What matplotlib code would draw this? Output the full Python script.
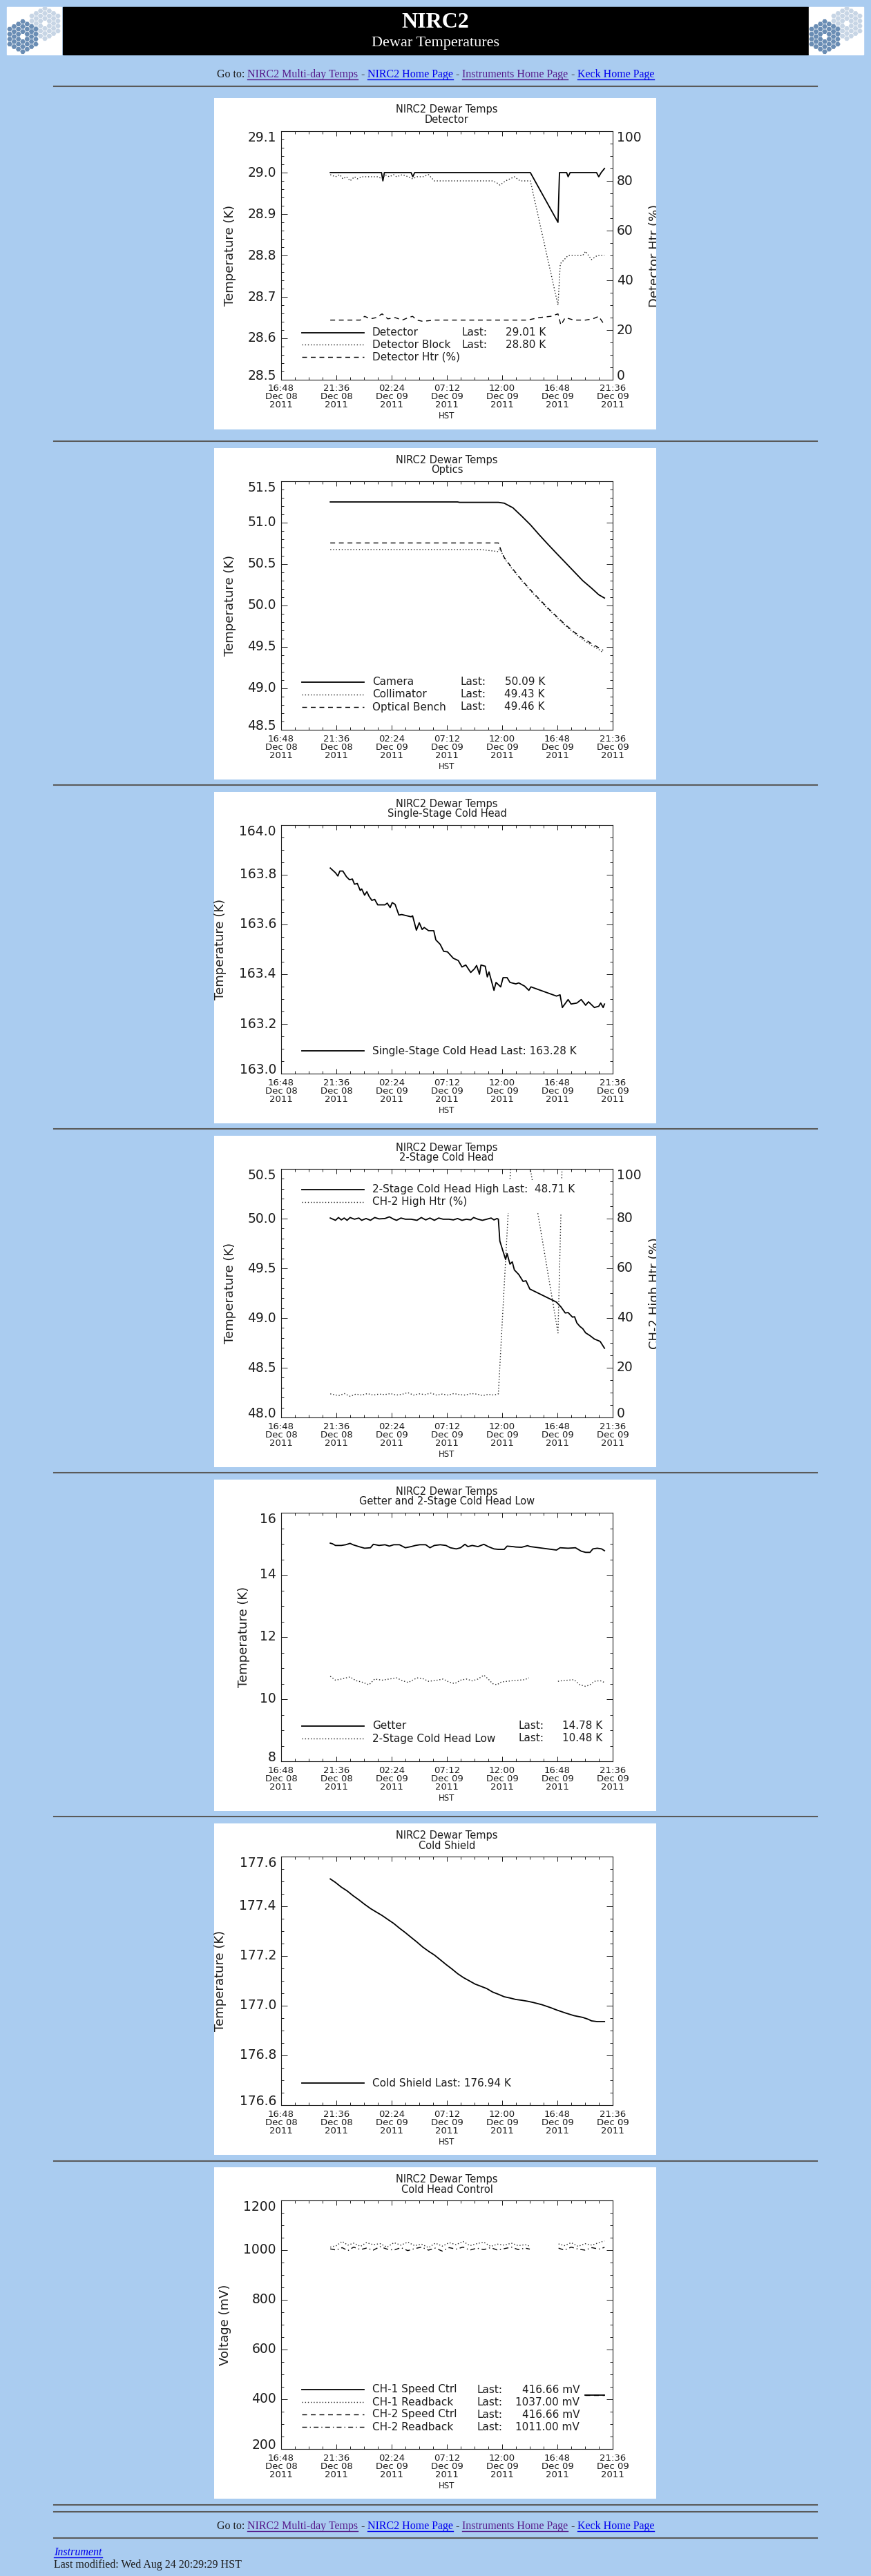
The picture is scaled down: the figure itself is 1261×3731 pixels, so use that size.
import numpy as np
import matplotlib
matplotlib.use("Agg")
import matplotlib.pyplot as plt
from matplotlib import transforms
from matplotlib.patches import Rectangle, RegularPolygon
from matplotlib.ticker import FixedLocator, MultipleLocator

W, H = 1261, 3731
PAGE_BG = "#AACCF0"
INK = "#1c1c1c"
SANS = "DejaVu Sans"
SERIF = "Liberation Serif"
LINK = "#0000EE"
VISITED = "#551A8B"

# time axis: hours after 16:48 HST, Dec 08 2011
TIME_TICKS = [0.0, 4.8, 9.6, 14.4, 19.2, 24.0, 28.8]
TIME_CLOCK = ["16:48", "21:36", "02:24", "07:12", "12:00", "16:48", "21:36"]
TIME_DAY = ["Dec 08", "Dec 08", "Dec 09", "Dec 09", "Dec 09", "Dec 09", "Dec 09"]
TIME_YEAR = ["2011"] * 7

# ---------------- data (hour, value) ----------------
detector = [(4.27, 29.00), (8.72, 29.00), (8.84, 28.98), (8.97, 29.00), (11.29, 29.00),
            (11.44, 28.99), (11.60, 29.00), (21.65, 29.00), (24.05, 28.88), (24.18, 29.00),
            (24.80, 29.00), (24.93, 28.99), (25.10, 29.00), (27.40, 29.00), (27.59, 28.99),
            (27.80, 29.00), (28.09, 29.01)]
detector_block = [(4.27, 28.995), (4.72, 28.99), (5.10, 28.995), (5.36, 28.985), (5.68, 28.99),
                  (5.99, 28.98), (6.37, 28.99), (6.62, 28.985), (7.00, 28.99), (7.45, 28.99),
                  (7.88, 28.99), (8.39, 28.99), (8.77, 28.985), (9.02, 28.995), (9.40, 28.99),
                  (9.78, 28.995), (10.03, 28.99), (10.53, 28.995), (11.04, 28.99), (11.42, 28.985),
                  (11.80, 28.99), (12.30, 28.99), (12.81, 28.995), (13.31, 28.98), (14.83, 28.98),
                  (16.85, 28.98), (18.37, 28.98), (18.75, 28.975), (19.00, 28.97), (19.50, 28.98),
                  (20.26, 28.99), (20.77, 28.98), (21.65, 28.98), (24.05, 28.68), (24.25, 28.78),
                  (24.93, 28.80), (25.44, 28.80), (26.20, 28.80), (26.45, 28.81), (26.96, 28.79),
                  (27.46, 28.80), (28.09, 28.80)]
detector_htr = [(4.27, 24), (6.87, 24), (7.25, 25.5), (7.76, 24.5), (8.26, 25), (8.77, 26.5),
                (9.27, 24.5), (9.90, 25), (10.53, 24), (11.04, 25), (11.42, 25.5), (11.80, 24),
                (12.30, 23.5), (13.31, 24), (21.40, 24), (22.41, 25), (23.42, 25.5), (24.05, 26.5),
                (24.30, 22), (24.68, 25), (25.44, 24), (26.45, 24), (27.08, 24.5), (27.59, 25.5),
                (28.09, 22)]

camera = [(4.27, 51.25), (15.33, 51.25), (15.50, 51.245), (18.87, 51.245), (19.38, 51.235),
          (20.13, 51.18), (20.89, 51.08), (21.65, 50.975), (22.41, 50.855), (23.17, 50.74),
          (23.92, 50.63), (24.68, 50.52), (25.44, 50.41), (26.20, 50.30), (26.96, 50.21),
          (27.59, 50.13), (28.09, 50.09)]
collimator = [(4.27, 50.675), (17.36, 50.675), (18.62, 50.655), (18.87, 50.65), (19.00, 50.70),
              (19.07, 50.67), (19.38, 50.57), (20.13, 50.43), (20.89, 50.30), (21.65, 50.18),
              (22.41, 50.07), (23.17, 49.96), (23.92, 49.86), (24.68, 49.76), (25.44, 49.67),
              (26.20, 49.59), (26.96, 49.52), (27.59, 49.47), (27.97, 49.43)]
optical_bench = [(4.27, 50.755), (18.87, 50.755), (19.12, 50.66), (19.38, 50.58), (20.13, 50.44),
                 (20.89, 50.31), (21.65, 50.19), (22.41, 50.08), (23.17, 49.97), (23.92, 49.87),
                 (24.68, 49.77), (25.44, 49.68), (26.20, 49.61), (26.96, 49.54), (27.59, 49.49),
                 (27.97, 49.46)]

single_stage = [(4.27, 163.827), (4.72, 163.808), (4.93, 163.795), (5.10, 163.815), (5.36, 163.815),
                (5.68, 163.792), (5.94, 163.780), (6.19, 163.783), (6.37, 163.762), (6.62, 163.765),
                (6.87, 163.737), (7.00, 163.743), (7.25, 163.718), (7.45, 163.732), (7.63, 163.714),
                (7.88, 163.697), (8.13, 163.701), (8.39, 163.679), (9.02, 163.679), (9.22, 163.686),
                (9.47, 163.668), (9.65, 163.688), (9.90, 163.681), (10.23, 163.638), (10.48, 163.640),
                (11.29, 163.631), (11.42, 163.635), (11.75, 163.577), (12.00, 163.607), (12.25, 163.580),
                (12.43, 163.588), (12.81, 163.575), (13.26, 163.575), (13.44, 163.538), (13.82, 163.520),
                (14.12, 163.492), (14.45, 163.490), (14.96, 163.464), (15.39, 163.455), (15.71, 163.429),
                (16.04, 163.437), (16.47, 163.407), (16.80, 163.422), (16.98, 163.435), (17.23, 163.400),
                (17.36, 163.437), (17.73, 163.432), (17.91, 163.389), (18.06, 163.409), (18.49, 163.335),
                (18.67, 163.367), (19.07, 163.349), (19.28, 163.386), (19.63, 163.386), (19.88, 163.367),
                (20.39, 163.361), (20.64, 163.365), (21.15, 163.352), (21.52, 163.335), (21.70, 163.349),
                (23.92, 163.312), (24.23, 163.317), (24.43, 163.266), (24.93, 163.298), (25.19, 163.280),
                (25.69, 163.284), (26.07, 163.298), (26.45, 163.275), (26.70, 163.289), (27.21, 163.266),
                (27.59, 163.271), (27.76, 163.284), (27.97, 163.266), (28.09, 163.280)]

ch2_high = [(4.27, 50.006), (4.72, 49.983), (4.98, 50.011), (5.23, 49.987), (5.48, 50.006),
            (5.73, 49.983), (5.99, 50.011), (6.37, 49.994), (6.75, 50.006), (7.00, 49.983),
            (7.38, 50.001), (7.76, 49.983), (8.13, 50.011), (8.51, 49.997), (9.02, 50.001),
            (9.40, 50.018), (9.78, 49.994), (10.03, 49.983), (10.41, 50.006), (10.79, 49.994),
            (11.29, 49.994), (11.80, 49.983), (12.18, 50.011), (12.56, 49.987), (12.93, 50.006),
            (13.31, 49.983), (13.69, 50.006), (14.07, 49.994), (14.58, 49.994), (14.96, 49.987),
            (15.33, 50.001), (15.71, 49.983), (16.09, 49.994), (16.47, 49.987), (16.72, 50.011),
            (17.10, 49.994), (17.48, 49.983), (17.86, 49.994), (18.24, 50.006), (18.49, 49.987),
            (18.75, 50.001), (18.87, 49.994), (19.00, 49.774), (19.25, 49.681), (19.50, 49.589),
            (19.63, 49.647), (19.88, 49.542), (20.08, 49.565), (20.26, 49.484), (20.64, 49.438),
            (21.02, 49.368), (21.27, 49.375), (21.60, 49.292), (23.92, 49.160), (24.30, 49.113),
            (24.68, 49.051), (24.93, 49.055), (25.31, 49.009), (25.49, 49.013), (25.69, 48.951),
            (25.95, 48.916), (26.20, 48.893), (26.45, 48.851), (26.83, 48.823), (27.21, 48.789),
            (27.46, 48.777), (27.71, 48.765), (28.09, 48.696)]
ch2_htr = [(4.27, 9.5), (5.0, 8.8), (5.5, 9.6), (6.0, 8.5), (6.5, 9.4), (7.0, 9.0), (7.5, 9.6),
           (8.0, 9.0), (8.5, 9.4), (9.0, 9.2), (9.5, 9.6), (10.0, 9.0), (10.5, 9.3), (11.0, 10.0),
           (11.5, 9.0), (12.0, 9.5), (12.5, 9.2), (13.0, 9.8), (13.5, 9.0), (14.0, 9.4), (14.5, 9.0),
           (15.0, 9.6), (15.5, 9.2), (16.0, 9.0), (16.5, 9.6), (17.0, 9.4), (17.5, 8.8), (18.0, 9.3),
           (18.5, 9.0), (18.87, 9.5), (19.93, 100), (21.65, 100), (24.05, 34), (24.40, 100),
           (28.09, 100)]

getter = [(4.27, 15.021), (4.47, 14.999), (4.72, 14.947), (5.23, 14.947), (5.61, 14.970),
          (5.99, 15.014), (6.24, 14.970), (6.75, 14.910), (7.25, 14.858), (7.76, 14.873),
          (8.01, 14.984), (8.51, 14.947), (9.02, 14.970), (9.40, 14.925), (9.78, 14.970),
          (10.28, 14.970), (10.79, 14.873), (11.29, 14.910), (11.67, 14.947), (12.05, 14.970),
          (12.56, 14.970), (12.93, 14.873), (13.31, 14.947), (13.82, 14.970), (14.32, 14.947),
          (14.70, 14.873), (15.21, 14.836), (15.59, 14.873), (15.97, 14.984), (16.22, 14.910),
          (16.60, 14.947), (17.10, 14.910), (17.61, 14.984), (17.99, 14.910), (18.49, 14.836),
          (18.87, 14.821), (19.38, 14.821), (19.63, 14.925), (20.13, 14.910), (20.39, 14.896),
          (20.89, 14.888), (21.40, 14.940), (21.65, 14.910), (23.92, 14.799), (24.23, 14.873),
          (24.93, 14.858), (25.57, 14.873), (26.07, 14.762), (26.45, 14.725), (26.83, 14.725),
          (27.08, 14.836), (27.46, 14.858), (27.84, 14.836), (28.09, 14.777)]
ch2_low = [(4.27, 10.737), (4.72, 10.611), (5.23, 10.648), (5.99, 10.715), (6.49, 10.596),
           (7.00, 10.552), (7.63, 10.463), (8.13, 10.648), (8.77, 10.611), (9.40, 10.648),
           (10.03, 10.685), (10.53, 10.596), (11.04, 10.537), (11.80, 10.685), (12.30, 10.663),
           (12.81, 10.574), (13.57, 10.611), (14.07, 10.648), (14.58, 10.552), (15.08, 10.500),
           (15.59, 10.611), (16.09, 10.648), (16.60, 10.589), (17.10, 10.648), (17.61, 10.774),
           (17.99, 10.648), (18.37, 10.500), (18.75, 10.463), (19.12, 10.552), (19.63, 10.574),
           (20.13, 10.596), (20.64, 10.611), (21.15, 10.626), (21.52, 10.685), (22.80, np.nan),
           (24.05, 10.574), (24.43, 10.596), (24.93, 10.611), (25.44, 10.626), (25.95, 10.463),
           (26.45, 10.411), (26.83, 10.463), (27.21, 10.574), (27.71, 10.596), (28.09, 10.537)]

cold_shield = [(4.27, 177.510), (4.72, 177.496), (5.23, 177.477), (5.73, 177.462), (6.24, 177.443),
               (6.75, 177.426), (7.25, 177.408), (7.76, 177.391), (8.26, 177.377), (8.77, 177.363),
               (9.27, 177.347), (9.78, 177.331), (10.28, 177.312), (10.79, 177.294), (11.29, 177.275),
               (11.80, 177.256), (12.30, 177.236), (12.81, 177.219), (13.31, 177.204), (13.82, 177.185),
               (14.32, 177.166), (14.83, 177.148), (15.33, 177.129), (15.84, 177.113), (16.35, 177.100),
               (16.85, 177.087), (17.36, 177.078), (17.86, 177.069), (18.37, 177.055), (18.87, 177.046),
               (19.38, 177.036), (19.88, 177.031), (20.39, 177.025), (20.89, 177.022), (21.40, 177.018),
               (21.90, 177.013), (22.66, 177.004), (23.42, 176.992), (23.92, 176.983), (24.68, 176.971),
               (25.44, 176.960), (26.20, 176.953), (26.70, 176.945), (26.96, 176.939), (27.46, 176.936),
               (28.09, 176.936)]

ch1_speed = [(26.40, 416.66), (28.05, 416.66)]
ch2_speed = [(26.40, 416.66), (28.05, 416.66)]
ch1_readback = [(4.27, 1012), (4.8, 1018), (5.3, 1035), (5.8, 1020), (6.3, 1028), (6.9, 1015),
                (7.4, 1030), (8.0, 1022), (8.6, 1026), (9.2, 1012), (9.8, 1030), (10.4, 1020),
                (11.0, 1032), (11.6, 1018), (12.2, 1024), (12.8, 1010), (13.4, 1028), (14.0, 1016),
                (14.6, 1030), (15.2, 1022), (15.8, 1035), (16.4, 1018), (17.0, 1026), (17.6, 1032),
                (18.2, 1015), (18.8, 1024), (19.4, 1020), (20.0, 1028), (20.6, 1018), (21.2, 1022),
                (21.6, 1016), (22.8, np.nan), (24.1, 1025), (24.6, 1018), (25.2, 1030), (25.8, 1015),
                (26.4, 1026), (27.0, 1020), (27.6, 1030), (28.09, 1037)]
ch2_readback = [(4.27, 1005), (4.8, 1000), (5.3, 1010), (5.8, 998), (6.3, 1012), (6.9, 1002),
                (7.4, 1008), (8.0, 1000), (8.6, 1014), (9.2, 1004), (9.8, 1000), (10.4, 1010),
                (11.0, 998), (11.6, 1006), (12.2, 1012), (12.8, 1000), (13.4, 1008), (14.0, 996),
                (14.6, 1010), (15.2, 1004), (15.8, 1012), (16.4, 1000), (17.0, 1008), (17.6, 1002),
                (18.2, 1010), (18.8, 1000), (19.4, 1006), (20.0, 1012), (20.6, 1002), (21.2, 1008),
                (21.6, 1004), (22.8, np.nan), (24.1, 1008), (24.6, 1000), (25.2, 1012), (25.8, 1004),
                (26.4, 1000), (27.0, 1010), (27.6, 1004), (28.09, 1011)]

SOLID = dict(color="black", lw=1.3, ls="-")
DOTTED = dict(color="#222222", lw=1.0, ls=(0, (1, 2)))
DASHED = dict(color="black", lw=1.0, ls=(0, (5, 4)))
DASHDOT = dict(color="black", lw=1.0, ls=(0, (5, 3, 1, 3)))


def xy(pairs):
    a = np.array(pairs, dtype=float)
    return a[:, 0], a[:, 1]


fig = plt.figure(figsize=(W / 100, H / 100), dpi=100)
fig.patch.set_facecolor(PAGE_BG)


def px_axes(x, y, w, h):
    return fig.add_axes([x / W, 1 - (y + h) / H, w / W, h / H])


page = px_axes(0, 0, W, H)
page.set_xlim(0, W)
page.set_ylim(H, 0)
page.axis("off")

# ---------------- header ----------------
page.add_patch(Rectangle((91, 10), 1079, 69, color="black"))


def logo(x0, y0):
    box = Rectangle((x0, y0), 79, 69, color="white")
    page.add_patch(box)
    s = 4.2
    for (cx, cy), col in [((x0 + 55, y0 + 24), "#C7D5E5"), ((x0 + 23, y0 + 43), "#6A8DB4")]:
        for q in range(-3, 4):
            for r in range(-3, 4):
                if max(abs(q), abs(r), abs(q + r)) > 3 or (q == 0 and r == 0):
                    continue
                hx = cx + 1.5 * s * q
                hy = cy + np.sqrt(3) * s * (r + q / 2)
                hp = RegularPolygon((hx, hy), 6, radius=s * 0.9, orientation=np.pi / 6,
                                    color=col, lw=0)
                page.add_patch(hp)
                hp.set_clip_path(box)


logo(10, 10)
logo(1171, 10)
page.text(630, 33, "NIRC2", color="white", fontsize=23, fontweight="bold", family=SERIF,
          ha="center", va="center")
page.text(630, 63, "Dewar Temperatures", color="white", fontsize=16, family=SERIF,
          ha="center", va="center")

renderer = fig.canvas.get_renderer()


def text_width(s, **kw):
    t = page.text(0, 0, s, **kw)
    w = t.get_window_extent(renderer=renderer).width
    t.remove()
    return w


def goto_row(base):
    size = 11.5
    gap = 0.25 * size * 100 / 72
    items = [("Go to:", INK, False), ("NIRC2 Multi-day Temps", VISITED, True), ("-", INK, False),
             ("NIRC2 Home Page", LINK, True), ("-", INK, False),
             ("Instruments Home Page", VISITED, True), ("-", INK, False),
             ("Keck Home Page", LINK, True)]
    widths = [text_width(s, fontsize=size, family=SERIF) for s, _, _ in items]
    total = sum(widths) + gap * (len(items) - 1)
    x = 630.5 - total / 2
    for (s, col, link), w in zip(items, widths):
        page.text(x, base, s, color=col, fontsize=size, family=SERIF, ha="left", va="baseline")
        if link:
            page.plot([x, x + w], [base + 2.5, base + 2.5], color=col, lw=1.0)
        x += w + gap


def rule(y):
    page.plot([78, 1183], [y, y], color="#5a5a5a", lw=1.5)


goto_row(112)
for y in [124.5, 638.5, 1137, 1635, 2133, 2631, 3129.5, 3628, 3638, 3676]:
    rule(y)
goto_row(3663)
page.text(78, 3701, "Instrument", color=LINK, fontsize=11.5, family=SERIF, style="italic",
          ha="left", va="baseline")
wi = text_width("Instrument", fontsize=11.5, family=SERIF, style="italic")
page.plot([78, 78 + wi], [3703.5, 3703.5], color=LINK, lw=1.0)
page.text(78, 3719, "Last modified: Wed Aug 24 20:29:29 HST", color=INK, fontsize=11.5,
          family=SERIF, ha="left", va="baseline")

# ---------------- IDL style panels ----------------
PANEL_X = 310
PANEL_TOPS = [142, 649, 1147, 1645, 2143, 2641, 3139]


def make_panel(top, subtitle, ylim, ymajor, yminor, fmt, ylabel, ylabel_x, right=None):
    bg = px_axes(PANEL_X, top, 640, 480)
    bg.set_facecolor("white")
    bg.set_xticks([])
    bg.set_yticks([])
    for sp in bg.spines.values():
        sp.set_visible(False)
    bg.set_zorder(1)

    ax = px_axes(PANEL_X + 97, top + 48, 480, 360)
    ax.set_zorder(2)
    ax.patch.set_alpha(0)
    ax.set_xlim(0, 28.8)
    ax.set_ylim(*ylim)
    ax.xaxis.set_major_locator(FixedLocator(TIME_TICKS))
    ax.xaxis.set_minor_locator(MultipleLocator(1.2))
    ax.yaxis.set_major_locator(MultipleLocator(ymajor))
    ax.yaxis.set_minor_locator(MultipleLocator(ymajor / yminor))
    for sp in ax.spines.values():
        sp.set_linewidth(0.8)
        sp.set_color(INK)

    ax2 = None
    if right is not None:
        ax2 = ax.twinx()
        ax2.set_zorder(2)
        ax2.patch.set_alpha(0)
        ax2.set_ylim(0, 100)
        ax2.yaxis.set_major_locator(MultipleLocator(20))
        ax2.yaxis.set_minor_locator(MultipleLocator(5))
        ax2.tick_params(axis="y", which="both", direction="in", right=True, left=False,
                        labelright=False, color=INK, width=0.7)
        ax2.tick_params(axis="y", which="major", length=6.5)
        ax2.tick_params(axis="y", which="minor", length=3.2)
        for sp in ax2.spines.values():
            sp.set_visible(False)
    ax.tick_params(which="both", direction="in", top=True, bottom=True, left=True,
                   right=right is None, labelbottom=False, labelleft=False,
                   color=INK, width=0.7)
    ax.tick_params(axis="x", which="major", length=5.0)
    ax.tick_params(axis="x", which="minor", length=2.6)
    ax.tick_params(axis="y", which="major", length=6.5)
    ax.tick_params(axis="y", which="minor", length=3.2)

    # tick labels
    yvals = np.round(np.arange(ylim[0], ylim[1] + ymajor / 2, ymajor), 6)
    ltr = transforms.offset_copy(ax.get_yaxis_transform(), fig=fig, x=-7, y=0, units="dots")
    for i, v in enumerate(yvals):
        va = "baseline" if i == 0 else ("top" if i == len(yvals) - 1 else "center")
        ax.text(0, v, fmt % v, transform=ltr, ha="right", va=va, fontsize=13.5,
                family=SANS, color=INK)
    if ax2 is not None:
        rtr = transforms.offset_copy(ax2.get_yaxis_transform(), fig=fig, x=6, y=0, units="dots")
        rvals = np.arange(0, 101, 20)
        for i, v in enumerate(rvals):
            va = "baseline" if i == 0 else ("top" if i == len(rvals) - 1 else "center")
            ax2.text(1, v, "%d" % v, transform=rtr, ha="left", va=va, fontsize=13.5,
                     family=SANS, color=INK)
    for t, a, b, c in zip(TIME_TICKS, TIME_CLOCK, TIME_DAY, TIME_YEAR):
        for j, s in enumerate([a, b, c]):
            tr = transforms.offset_copy(ax.get_xaxis_transform(), fig=fig, x=0,
                                        y=-(13 + 12 * j), units="dots")
            ax.text(t, 0, s, transform=tr, ha="center", va="center", fontsize=9.5,
                    family=SANS, color=INK)

    ov = px_axes(PANEL_X, top, 640, 480)
    ov.set_zorder(3)
    ov.patch.set_alpha(0)
    ov.set_xlim(0, 640)
    ov.set_ylim(480, 0)
    ov.set_xticks([])
    ov.set_yticks([])
    for sp in ov.spines.values():
        sp.set_visible(False)
    ov.text(337, 17, "NIRC2 Dewar Temps", ha="center", va="center", fontsize=10.5,
            family=SANS, color=INK)
    ov.text(337, 32, subtitle, ha="center", va="center", fontsize=10.5, family=SANS, color=INK)
    ov.text(337, 461, "HST", ha="center", va="center", fontsize=8.5, family=SANS, color=INK)
    ov.text(ylabel_x, 228, ylabel, rotation=90, ha="center", va="center", fontsize=13,
            family=SANS, color=INK)
    if right is not None:
        ov.text(638, 228, right, rotation=90, ha="center", va="center", fontsize=13,
                family=SANS, color=INK, clip_on=True)
    return ax, ax2, ov


def legend(ov, rows, last_x=None, val_x=None):
    for y, style, name, value in rows:
        ov.plot([127, 217], [y, y], **style)
        ov.text(229, y, name, ha="left", va="center", fontsize=11, family=SANS, color=INK)
        if value is not None:
            ov.text(last_x, y, "Last:", ha="right", va="center", fontsize=11, family=SANS,
                    color=INK)
            ov.text(val_x, y, value, ha="right", va="center", fontsize=11, family=SANS,
                    color=INK)


# 1 Detector
ax, ax2, ov = make_panel(PANEL_TOPS[0], "Detector", (28.5, 29.1), 0.1, 5, "%.1f",
                         "Temperature (K)", 23, right="Detector Htr (%)")
ax.plot(*xy(detector), **SOLID)
ax.plot(*xy(detector_block), **DOTTED)
ax2.plot(*xy(detector_htr), **DASHED)
legend(ov, [(340, SOLID, "Detector", "29.01 K"), (357, DOTTED, "Detector Block", "28.80 K"),
            (375, DASHED, "Detector Htr (%)", None)], 396, 480)

# 2 Optics
ax, _, ov = make_panel(PANEL_TOPS[1], "Optics", (48.5, 51.5), 0.5, 5, "%.1f",
                       "Temperature (K)", 23)
ax.plot(*xy(camera), **SOLID)
ax.plot(*xy(collimator), **DOTTED)
ax.plot(*xy(optical_bench), **DASHED)
legend(ov, [(339, SOLID, "Camera", "50.09 K"), (357, DOTTED, "Collimator", "49.43 K"),
            (375, DASHED, "Optical Bench", "49.46 K")], 394, 479)

# 3 Single-stage cold head
ax, _, ov = make_panel(PANEL_TOPS[2], "Single-Stage Cold Head", (163.0, 164.0), 0.2, 4, "%.1f",
                       "Temperature (K)", 9)
ax.plot(*xy(single_stage), **SOLID)
legend(ov, [(375, SOLID, "Single-Stage Cold Head Last: 163.28 K", None)])

# 4 2-stage cold head
ax, ax2, ov = make_panel(PANEL_TOPS[3], "2-Stage Cold Head", (48.0, 50.5), 0.5, 5, "%.1f",
                         "Temperature (K)", 23, right="CH-2 High Htr (%)")
ax.plot(*xy(ch2_high), **SOLID)
ax2.plot(*xy(ch2_htr), **DOTTED)
ov.add_patch(Rectangle((118, 64), 455, 48, color="white", lw=0, zorder=1))
legend(ov, [(78, SOLID, "2-Stage Cold Head High Last:  48.71 K", None),
            (96, DOTTED, "CH-2 High Htr (%)", None)])

# 5 Getter and 2-stage low
ax, _, ov = make_panel(PANEL_TOPS[4], "Getter and 2-Stage Cold Head Low", (8, 16), 2, 4, "%d",
                       "Temperature (K)", 43)
ax.plot(*xy(getter), **SOLID)
ax.plot(*xy(ch2_low), **DOTTED)
legend(ov, [(357, SOLID, "Getter", "14.78 K"), (375, DOTTED, "2-Stage Cold Head Low", "10.48 K")],
       477, 562)

# 6 Cold shield
ax, _, ov = make_panel(PANEL_TOPS[5], "Cold Shield", (176.6, 177.6), 0.2, 4, "%.1f",
                       "Temperature (K)", 9)
ax.plot(*xy(cold_shield), **SOLID)
legend(ov, [(376, SOLID, "Cold Shield Last: 176.94 K", None)])

# 7 Cold head control
ax, _, ov = make_panel(PANEL_TOPS[6], "Cold Head Control", (200, 1200), 200, 4, "%d",
                       "Voltage (mV)", 16)
ax.plot(*xy(ch1_speed), **SOLID)
ax.plot(*xy(ch1_readback), **DOTTED)
ax.plot(*xy(ch2_speed), **DASHED)
ax.plot(*xy(ch2_readback), **DASHDOT)
legend(ov, [(322, SOLID, "CH-1 Speed Ctrl", "416.66 mV"), (340, DOTTED, "CH-1 Readback", "1037.00 mV"),
            (358, DASHED, "CH-2 Speed Ctrl", "416.66 mV"), (376, DASHDOT, "CH-2 Readback", "1011.00 mV")],
       417, 529)

fig.savefig("out.png", dpi=100, facecolor=PAGE_BG)
